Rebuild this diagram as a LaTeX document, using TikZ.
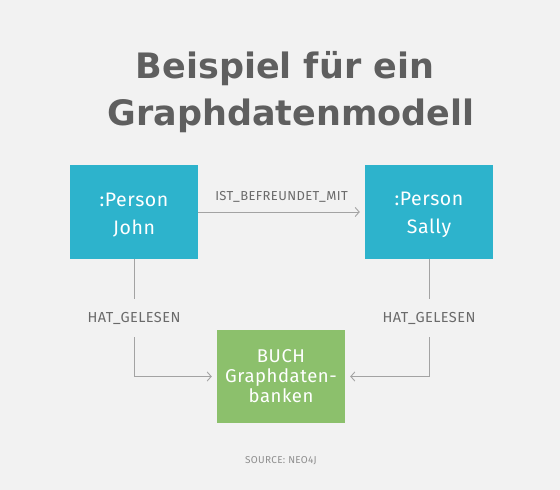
\documentclass[tikz,border=0pt]{standalone}
\usepackage{fontspec}
\setmainfont{Fira Sans}[LetterSpace=3]
\newfontfamily\titlefont{DejaVu Sans}
\usetikzlibrary{arrows.meta}
\definecolor{bg}{HTML}{F2F2F2}
\definecolor{titlec}{HTML}{5F5F5F}
\definecolor{labc}{HTML}{6A6A6A}
\definecolor{linec}{HTML}{A3A3A3}
\definecolor{personc}{HTML}{2DB3CC}
\definecolor{bookc}{HTML}{8CC06C}
\definecolor{srcc}{HTML}{8F8F8F}
\tikzset{
  person/.style={fill=personc, text=white, minimum width=128pt, minimum height=94pt, inner sep=0pt, align=center, font=\fontsize{19.5}{28}\selectfont},
  book/.style={fill=bookc, text=white, minimum width=128pt, minimum height=93pt, inner sep=0pt, align=center, font=\fontsize{18.5}{20}\selectfont},
  rel/.style={text=labc, font=\fontsize{14.5}{16}\selectfont, inner sep=0pt, minimum height=38pt},
  ttl/.style={text=titlec, font=\titlefont\bfseries\fontsize{35}{40}\selectfont, anchor=base, inner sep=0pt},
  conn/.style={draw=linec, line width=0.9pt},
  arr/.style={conn, -{Straight Barb[length=4pt,width=9pt,line width=0.9pt]}, shorten >=5pt},
}
\begin{document}
\begin{tikzpicture}[x=1pt,y=1pt]
\fill[bg] (0,0) rectangle (560,490);
\useasboundingbox (0,0) rectangle (560,490);
\node[ttl] (title1) at (285,411) {Beispiel für ein};
\node[ttl] (title2) at (291,364) {Graphdatenmodell};
\node[person] (john) at (134,278) {\rule{0pt}{20pt}:Person\\John};
\node[person] (sally) at (429,278) {\rule{0pt}{20pt}:Person\\Sally};
\node[book] (book) at (281,113.5) {BUCH\\Graphdaten-\\banken};
\draw[arr] (john) -- node[above=9pt, text=labc, font=\fontsize{13}{15}\selectfont, inner sep=0pt] (friend) {IST\_BEFREUNDET\_MIT} (sally);
\node[rel] (hat1) at (134,172) {HAT\_GELESEN};
\node[rel] (hat2) at (429,172) {HAT\_GELESEN};
\draw[conn] (john.south) -- (hat1.north);
\draw[conn] (sally.south) -- (hat2.north);
\draw[arr] (hat1.south) |- (book.west);
\draw[arr] (hat2.south) |- (book.east);
\node[text=srcc, font=\fontsize{10}{12}\selectfont] (src) at (281,29) {SOURCE: NEO4J};
\end{tikzpicture}
\end{document}
